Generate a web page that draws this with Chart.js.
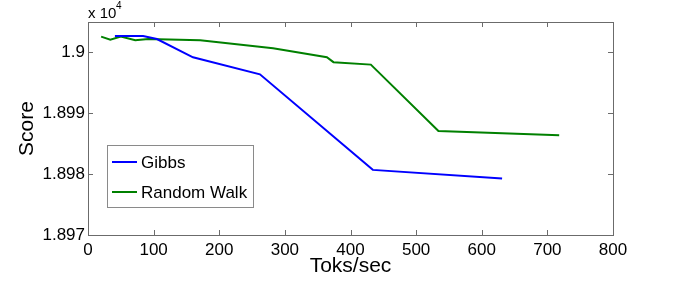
<!DOCTYPE html>
<html>
<head>
<meta charset="utf-8">
<script src="https://cdn.jsdelivr.net/npm/chart.js@4"></script>
<style>
  html, body { margin: 0; padding: 0; background: #fff; }
  #wrap { width: 675px; height: 297px; }
</style>
</head>
<body>
<div id="wrap"><canvas id="chart" width="675" height="297"></canvas></div>
<script>
const gibbsX = [41, 84, 105, 160, 262, 434, 631];
const gibbsY = [19002.7, 19002.7, 19002.2, 18999.2, 18996.4, 18980.7, 18979.3];
const walkX = [20, 34, 50, 72, 92, 171, 282, 364, 374, 431, 534, 718];
const walkY = [19002.6, 19002.1, 19002.6, 19002.0, 19002.2, 19002.0, 19000.7, 18999.2, 18998.4, 18998.0, 18987.1, 18986.4];
const xTicks = [0, 100, 200, 300, 400, 500, 600, 700, 800];
const yTicks = [18970, 18980, 18990, 19000];
const seriesNames = ["Gibbs", "Random Walk"];

const font = "'Liberation Sans', Arial, sans-serif";

// box, inward ticks, legend and exponent label
const decor = {
  id: "decor",
  afterDraw(chart) {
    const ctx = chart.ctx;
    const a = chart.chartArea;
    const xs = chart.scales.x, ys = chart.scales.y;
    ctx.save();
    ctx.strokeStyle = "#6b6b6b";
    ctx.lineWidth = 1;
    ctx.strokeRect(Math.round(a.left) + 0.5, Math.round(a.top) + 0.5,
      Math.round(a.right - a.left), Math.round(a.bottom - a.top));
    ctx.beginPath();
    xTicks.forEach(v => {
      const px = Math.round(xs.getPixelForValue(v)) + 0.5;
      ctx.moveTo(px, a.bottom); ctx.lineTo(px, a.bottom - 5);
      ctx.moveTo(px, a.top); ctx.lineTo(px, a.top + 5);
    });
    yTicks.forEach(v => {
      const py = Math.round(ys.getPixelForValue(v)) + 0.5;
      ctx.moveTo(a.left, py); ctx.lineTo(a.left + 5, py);
      ctx.moveTo(a.right, py); ctx.lineTo(a.right - 5, py);
    });
    ctx.stroke();

    // x 10^4
    ctx.fillStyle = "#000";
    ctx.textBaseline = "alphabetic";
    ctx.textAlign = "left";
    ctx.font = "15px " + font;
    ctx.fillText("x 10", a.left, 18);
    ctx.font = "10px " + font;
    ctx.fillText("4", a.left + 28, 9);

    // legend
    const lx = 107, ly = 145, lw = 146, lh = 62;
    ctx.fillStyle = "#fff";
    ctx.fillRect(lx, ly, lw, lh);
    ctx.strokeStyle = "#8a8a8a";
    ctx.strokeRect(lx + 0.5, ly + 0.5, lw, lh);
    ctx.font = "17px " + font;
    ctx.textBaseline = "middle";
    chart.data.datasets.forEach((ds, i) => {
      const y = ly + 17 + i * 30;
      ctx.strokeStyle = ds.borderColor;
      ctx.lineWidth = 2;
      ctx.beginPath();
      ctx.moveTo(112, y); ctx.lineTo(137, y);
      ctx.stroke();
      ctx.fillStyle = "#000";
      ctx.fillText(ds.label, 141, y + 1);
    });
    ctx.restore();
  }
};

new Chart(document.getElementById("chart"), {
  type: "scatter",
  data: {
    datasets: [
      {
        label: seriesNames[0],
        data: gibbsX.map((x, i) => ({ x: x, y: gibbsY[i] })),
        borderColor: "#0000ff",
        borderWidth: 2,
        showLine: true,
        pointRadius: 0,
      },
      {
        label: seriesNames[1],
        data: walkX.map((x, i) => ({ x: x, y: walkY[i] })),
        borderColor: "#008000",
        borderWidth: 2,
        showLine: true,
        pointRadius: 0,
      },
    ],
  },
  options: {
    responsive: false,
    animation: false,
    layout: { padding: { top: 22, right: 62, left: 0, bottom: 0 } },
    plugins: { legend: { display: false }, tooltip: { enabled: false } },
    scales: {
      x: {
        type: "linear",
        min: 0,
        max: 800,
        afterBuildTicks: (s) => { s.ticks = xTicks.map(v => ({ value: v })); },
        afterFit: (s) => { s.height = 62; },
        grid: { display: false, drawTicks: false },
        border: { display: false },
        ticks: { color: "#000", font: { family: font, size: 17 }, padding: 5, maxRotation: 0 },
        title: { display: true, text: "Toks/sec", color: "#000", font: { family: font, size: 21 }, padding: { top: 0, bottom: 18 } },
      },
      y: {
        type: "linear",
        min: 18970,
        max: 19005,
        afterBuildTicks: (s) => { s.ticks = yTicks.map(v => ({ value: v })); },
        afterFit: (s) => { s.width = 88; },
        grid: { display: false, drawTicks: false },
        border: { display: false },
        ticks: {
          color: "#000",
          font: { family: font, size: 17 },
          padding: 3,
          callback: (v) => String(+(v / 10000).toFixed(3)),
        },
        title: { display: true, text: "Score", color: "#000", font: { family: font, size: 21 }, padding: { top: 15, bottom: 0 } },
      },
    },
  },
  plugins: [decor],
});
</script>
</body>
</html>
